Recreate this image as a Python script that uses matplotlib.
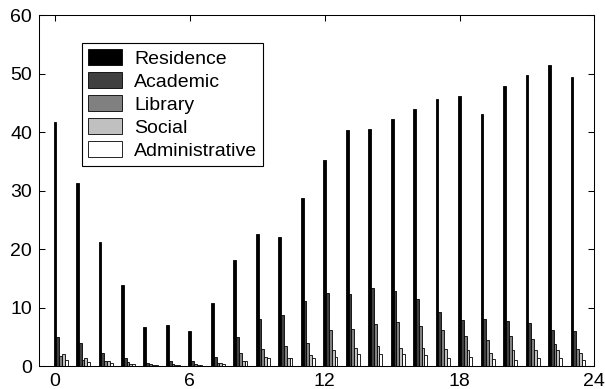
import numpy as np
import matplotlib.pyplot as plt

plt.rcParams['font.family'] = ['Liberation Sans', 'DejaVu Sans']

hours = np.arange(24)
categories = ['Residence', 'Academic', 'Library', 'Social', 'Administrative']

residence = [41.7, 31.3, 21.2, 13.8, 6.6, 7.0, 5.9, 10.7, 18.1, 22.5, 22.0, 28.8,
             35.3, 40.3, 40.6, 42.3, 44.0, 45.7, 46.1, 43.0, 47.8, 49.7, 51.4, 49.4]
academic = [4.9, 3.9, 2.3, 1.3, 0.6, 0.8, 0.8, 1.6, 4.9, 8.0, 8.8, 11.1,
            12.5, 12.3, 13.4, 12.9, 11.4, 9.3, 7.8, 8.1, 7.7, 7.4, 6.2, 6.0]
library = [1.7, 1.0, 0.9, 0.7, 0.35, 0.4, 0.3, 0.5, 2.3, 2.9, 3.4, 4.0,
           6.1, 6.4, 7.1, 7.5, 6.9, 6.2, 5.2, 4.4, 5.1, 4.6, 3.8, 2.9]
social = [2.0, 1.3, 0.8, 0.35, 0.2, 0.25, 0.2, 0.5, 0.8, 1.5, 1.4, 1.8,
          2.7, 3.0, 3.5, 3.0, 3.1, 2.9, 2.8, 2.3, 2.7, 2.7, 2.7, 2.2]
administrative = [1.0, 0.7, 0.5, 0.4, 0.2, 0.25, 0.2, 0.4, 0.8, 1.3, 1.4, 1.4,
                  1.6, 2.0, 2.1, 2.1, 1.8, 1.4, 1.5, 1.2, 1.1, 1.3, 1.3, 1.1]

series = [residence, academic, library, social, administrative]
colors = ['#000000', '#404040', '#808080', '#c0c0c0', '#ffffff']

fig = plt.figure(figsize=(6.05, 3.89), dpi=100)
ax = fig.add_axes([0.0645, 0.0591, 0.918, 0.9023])

# five bars per hour, side by side
w = 0.125
for i, (vals, name, c) in enumerate(zip(series, categories, colors)):
    ax.bar(hours + i * w, vals, width=w, color=c, edgecolor='black',
           linewidth=0.6, label=name)

ax.set_xlim(-0.71, 24)
ax.set_ylim(0, 60)
ax.set_xticks([0, 6, 12, 18, 24])
ax.set_yticks(range(0, 61, 10))
ax.tick_params(direction='in', length=4, width=0.75, top=True, right=True,
               labelsize=14)
ax.tick_params(axis='y', pad=5)
ax.tick_params(axis='x', pad=5)
for s in ax.spines.values():
    s.set_linewidth(0.75)

leg = ax.legend(loc='upper left', bbox_to_anchor=(0.077, 0.92), borderaxespad=0,
                fancybox=False, edgecolor='black', framealpha=1, fontsize=14,
                handlelength=1.75, handleheight=0.88, labelspacing=0.23,
                handletextpad=0.65, borderpad=0.3)
leg.get_frame().set_linewidth(0.8)

fig.savefig('out.png', dpi=100)
